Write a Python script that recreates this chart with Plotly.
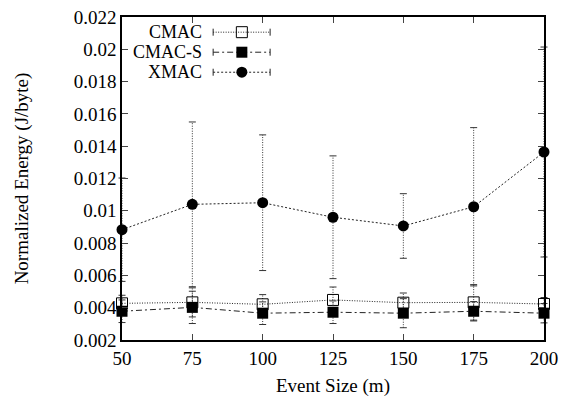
import plotly.graph_objects as go

# Event sizes (m)
event_size = [50, 75, 100, 125, 150, 175, 200]

# Normalized energy (J/byte) and error half-widths per protocol
cmac = [0.00427, 0.00433, 0.00421, 0.00448, 0.00431, 0.00433, 0.00423]
cmac_err = [0.0005, 0.0009, 0.0006, 0.0008, 0.0006, 0.0011, 0.0004]

cmac_s = [0.00378, 0.00402, 0.00366, 0.00372, 0.00366, 0.00378, 0.00366]
cmac_s_err = [0.0007, 0.0010, 0.0007, 0.0007, 0.0009, 0.0006, 0.0006]

xmac = [0.00883, 0.0104, 0.0105, 0.0096, 0.00906, 0.01025, 0.01364]
xmac_err = [0.0032, 0.0051, 0.0042, 0.0038, 0.0020, 0.0049, 0.0065]

y_ticks = [0.002, 0.004, 0.006, 0.008, 0.010, 0.012, 0.014, 0.016, 0.018, 0.020, 0.022]
y_tick_text = ["0.002", "0.004", "0.006", "0.008", "0.01", "0.012", "0.014",
               "0.016", "0.018", "0.02", "0.022"]
x_ticks = [50, 75, 100, 125, 150, 175, 200]

FONT = "Times New Roman, Liberation Serif, DejaVu Serif, serif"

series = [
    dict(name="CMAC", y=cmac, err=cmac_err, dash="1px,1.5px", lw=1,
         marker=dict(symbol="square-open", size=11, color="black", line=dict(width=1, color="black"))),
    dict(name="CMAC-S", y=cmac_s, err=cmac_s_err, dash="6px,3px,2px,3px", lw=1,
         marker=dict(symbol="square", size=11, color="black")),
    dict(name="XMAC", y=xmac, err=xmac_err, dash="2px,2px", lw=1,
         marker=dict(symbol="circle", size=11, color="black")),
]

fig = go.Figure()

for s in series:
    # dotted error bars with small caps
    ex, ey, cx, cy = [], [], [], []
    for x, v, e in zip(event_size, s["y"], s["err"]):
        ex += [x, x, None]
        ey += [v - e, v + e, None]
        cx += [x, x]
        cy += [v - e, v + e]
    fig.add_trace(go.Scatter(x=ex, y=ey, mode="lines", showlegend=False,
                             line=dict(color="#333", width=1, dash="1px,1.5px"),
                             hoverinfo="skip", cliponaxis=False))
    fig.add_trace(go.Scatter(x=cx, y=cy, mode="markers", showlegend=False,
                             marker=dict(symbol="line-ew", size=5,
                                         line=dict(width=1, color="#333")),
                             hoverinfo="skip", cliponaxis=False))
    fig.add_trace(go.Scatter(x=event_size, y=s["y"], mode="lines+markers", name=s["name"],
                             showlegend=False, cliponaxis=False,
                             line=dict(color="#222", width=s["lw"], dash=s["dash"]),
                             marker=s["marker"]))

# key in the top-left corner: label, then line sample with marker
key_rows = [0.953, 0.891, 0.829]
for s, ky in zip(series, key_rows):
    fig.add_trace(go.Scatter(x=[0.216, 0.351], y=[ky, ky], mode="lines+markers",
                             xaxis="x2", yaxis="y2", showlegend=False, hoverinfo="skip",
                             line=dict(color="#222", width=1, dash=s["dash"]),
                             marker=dict(symbol="line-ns", size=5,
                                         line=dict(width=1, color="#222"))))
    fig.add_trace(go.Scatter(x=[0.284], y=[ky], mode="markers",
                             xaxis="x2", yaxis="y2", showlegend=False, hoverinfo="skip",
                             marker=s["marker"]))
    fig.add_annotation(x=0.19, y=ky, xref="paper", yref="paper", text=s["name"],
                       showarrow=False, xanchor="right", yanchor="middle",
                       borderpad=0, borderwidth=0,
                       font=dict(family=FONT, size=18, color="black"))

fig.update_layout(
    width=562, height=403,
    margin=dict(l=122, r=18, t=17, b=63, autoexpand=False),
    paper_bgcolor="white", plot_bgcolor="white",
    font=dict(family=FONT, size=19, color="black"),
    xaxis=dict(range=[50, 200], tickvals=x_ticks, ticks="inside", ticklen=6,
               showline=True, linecolor="black", linewidth=1.5, mirror="allticks",
               showgrid=False, zeroline=False, automargin=False,
               tickfont=dict(family=FONT, size=19),
               title=dict(text="Event Size (m)", font=dict(family=FONT, size=19), standoff=11)),
    yaxis=dict(range=[0.002, 0.022], tickvals=y_ticks, ticktext=y_tick_text,
               ticks="inside", ticklen=6,
               showline=True, linecolor="black", linewidth=1.5, mirror="allticks",
               showgrid=False, zeroline=False, automargin=False,
               tickfont=dict(family=FONT, size=19),
               title=dict(text="Normalized Energy (J/byte)", font=dict(family=FONT, size=19),
                          standoff=40)),
    xaxis2=dict(overlaying="x", range=[0, 1], visible=False),
    yaxis2=dict(overlaying="y", range=[0, 1], visible=False),
    showlegend=False,
)

fig.write_html("out.html")
